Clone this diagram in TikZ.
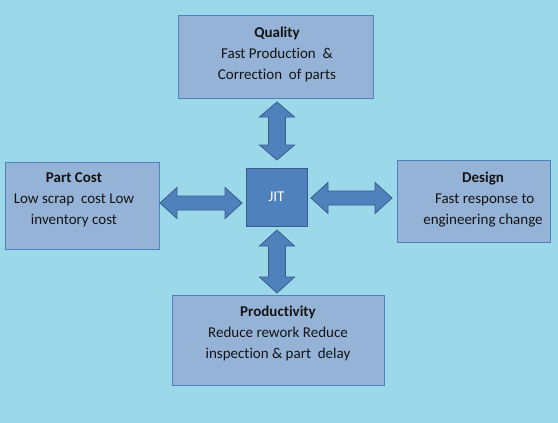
\documentclass[tikz,border=0pt]{standalone}
\usepackage{fontspec}
\setmainfont{Carlito}[Ligatures=NoCommon]
\definecolor{bgc}{RGB}{155,217,234}
\definecolor{boxfill}{RGB}{149,179,215}
\definecolor{boxline}{RGB}{79,129,189}
\definecolor{jitfill}{RGB}{79,129,189}
\definecolor{jitline}{RGB}{56,93,138}
\definecolor{arrfill}{RGB}{79,129,189}
\definecolor{arrline}{RGB}{56,93,138}
\definecolor{txt}{RGB}{20,20,20}
\newcommand{\vdarrow}[6]{% x, ytop, ybottom, headhalf, shafthalf, headlen
  \filldraw[arrowshape] (#1,#2) -- (#1+#4,#2+#6) -- (#1+#5,#2+#6) -- (#1+#5,#3-#6) -- (#1+#4,#3-#6)
    -- (#1,#3) -- (#1-#4,#3-#6) -- (#1-#5,#3-#6) -- (#1-#5,#2+#6) -- (#1-#4,#2+#6) -- cycle;}
\newcommand{\hdarrow}[6]{% y, xleft, xright, headhalf, shafthalf, headlen
  \filldraw[arrowshape] (#2,#1) -- (#2+#6,#1-#4) -- (#2+#6,#1-#5) -- (#3-#6,#1-#5) -- (#3-#6,#1-#4)
    -- (#3,#1) -- (#3-#6,#1+#4) -- (#3-#6,#1+#5) -- (#2+#6,#1+#5) -- (#2+#6,#1+#4) -- cycle;}
\begin{document}
\begin{tikzpicture}[x=1pt,y=-1pt,
  every node/.style={inner sep=0pt,outer sep=0pt},
  infobox/.style={draw=boxline,fill=boxfill,line width=1pt,rectangle},
  jitbox/.style={draw=jitline,fill=jitfill,line width=1pt,rectangle},
  boxtext/.style={align=center,text=txt,font=\fontsize{15}{21}\selectfont},
  arrowshape/.style={fill=arrfill,draw=arrline,line width=0.8pt,line join=miter}]
\fill[bgc] (0,0) rectangle (558,423);
\useasboundingbox (0,0) rectangle (558,423);
% boxes
\node[infobox,minimum width=195pt,minimum height=83pt] (quality) at (276.2,56.5) {};
\node[infobox,minimum width=154pt,minimum height=87pt] (partcost) at (82,205.5) {};
\node[jitbox,minimum width=61pt,minimum height=58pt] (jit) at (276.5,197) {};
\node[infobox,minimum width=153pt,minimum height=82pt] (design) at (473.5,201) {};
\node[infobox,minimum width=212pt,minimum height=90pt] (product) at (278,340) {};
% texts
\node[boxtext] (qualityt) at (277,54) {\textbf{Quality}\\Fast Production~~\&\\Correction~ of parts};
\node[boxtext] (partcostt) at (74,199.5) {\textbf{Part Cost}\\Low scrap~ cost Low\\inventory cost};
\node[boxtext,text=white] (jitt) at (276.5,197) {JIT};
\node[boxtext] (designt) at (483,199.5) {\textbf{Design}\\~Fast response to\\engineering change};
\node[boxtext] (productt) at (278,333.5) {\textbf{Productivity}\\Reduce rework Reduce\\inspection \& part~ delay};
% double arrows
\vdarrow{277}{102}{160}{17.5}{8.5}{15}
\vdarrow{277}{230}{293}{17.5}{8.5}{16}
\hdarrow{203}{160}{242}{15.5}{7}{17}
\hdarrow{198}{311}{392}{15.5}{7}{17}
\end{tikzpicture}
\end{document}
